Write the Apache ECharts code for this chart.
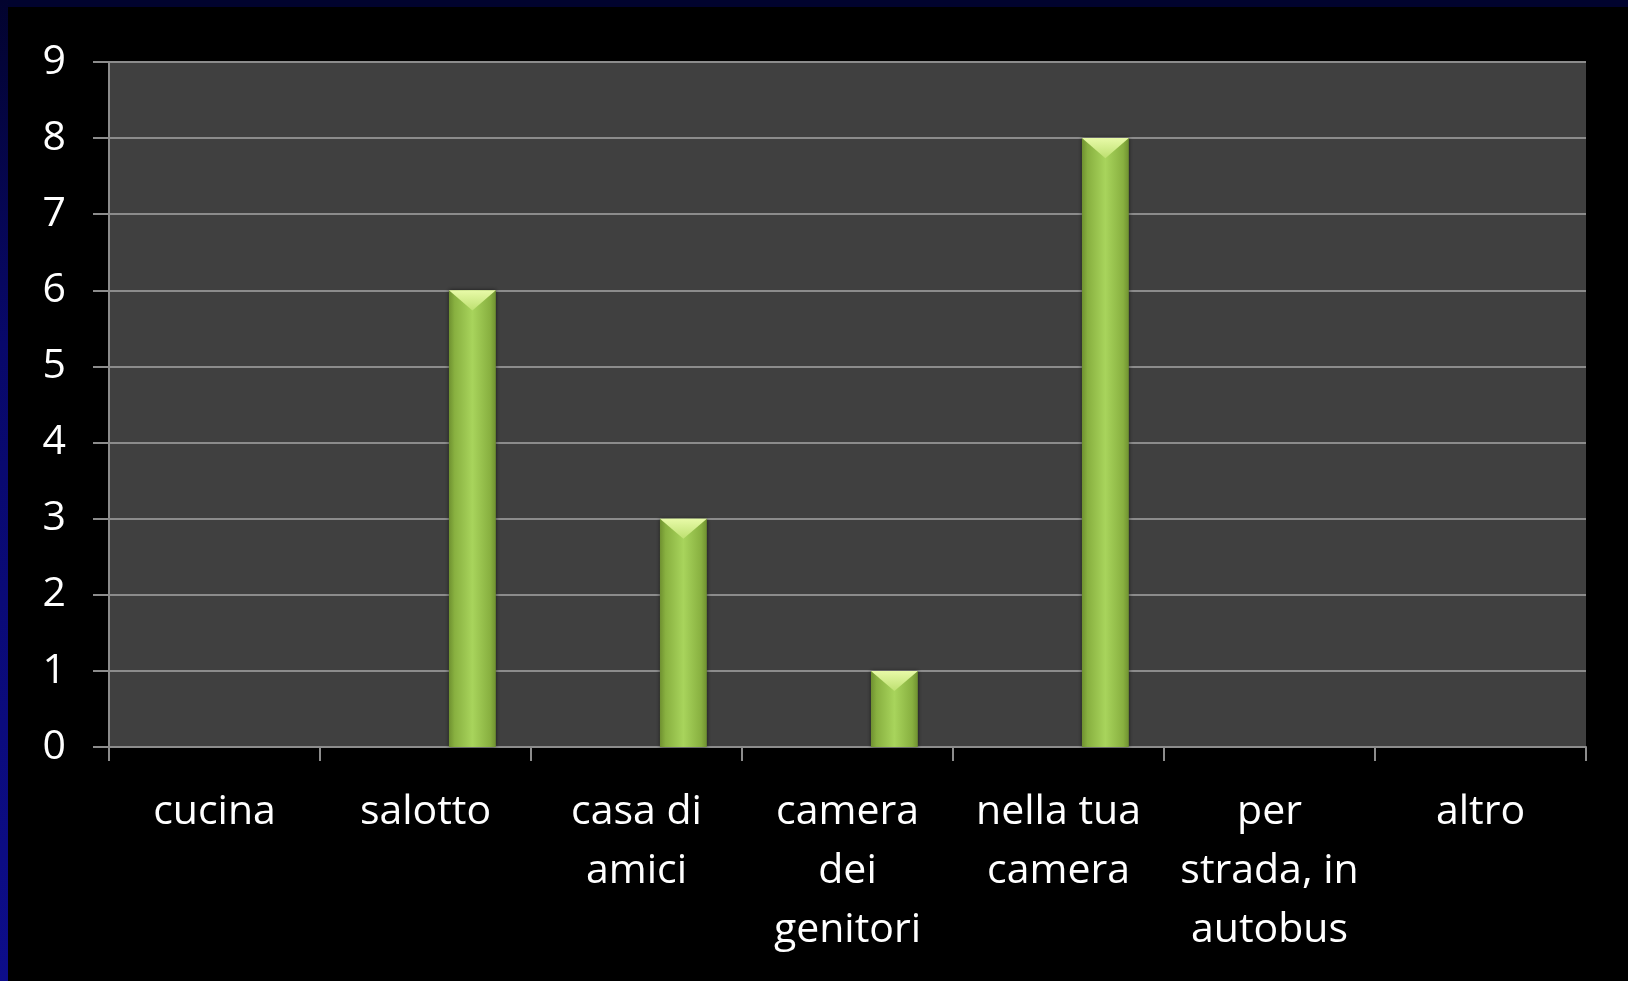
<!DOCTYPE html>
<html>
<head>
<meta charset="utf-8">
<script src="https://cdn.jsdelivr.net/npm/echarts@6/dist/echarts.min.js"></script>
<style>
  html, body { margin: 0; padding: 0; background: #000; }
  #wrap { position: relative; width: 1628px; height: 981px; background: #000; overflow: hidden; }
  #topbar { position: absolute; left: 0; top: 0; width: 1628px; height: 7px; background: #01032e; }
  #leftbar { position: absolute; left: 0; top: 0; width: 8px; height: 981px;
             background: linear-gradient(to bottom, #02032e 0%, #08086a 35%, #0d0d8a 100%); }
  #chart { position: absolute; left: 0; top: 0; width: 1628px; height: 981px; }
</style>
</head>
<body>
<div id="wrap">
  <div id="chart"></div>
  <div id="topbar"></div>
  <div id="leftbar"></div>
</div>
<script>
// ---- data ----
const categories = ['cucina', 'salotto', 'casa di\namici', 'camera\ndei\ngenitori', 'nella tua\ncamera', 'per\nstrada, in\nautobus', 'altro'];
const counts = [0, 6, 3, 1, 8, 0, 0];
const yTicks = [0, 1, 2, 3, 4, 5, 6, 7, 8, 9];

const chart = echarts.init(document.getElementById('chart'), null, { renderer: 'canvas' });

const font = '"Open Sans", "Noto Sans", sans-serif';
const barFill = new echarts.graphic.LinearGradient(0, 0, 1, 0, [
  { offset: 0, color: '#6f9130' },
  { offset: 0.12, color: '#88b040' },
  { offset: 0.5, color: '#a8d45c' },
  { offset: 0.88, color: '#88b040' },
  { offset: 1, color: '#6f9130' }
]);

const option = {
  backgroundColor: 'transparent',
  animation: false,
  grid: {
    left: 109, top: 62, right: 42, bottom: 234,
    show: true, backgroundColor: '#404040', borderWidth: 0
  },
  xAxis: {
    type: 'category',
    data: categories,
    axisLine: { show: true, lineStyle: { color: '#8c8c8c', width: 2 } },
    axisTick: { show: true, length: 14, lineStyle: { color: '#8c8c8c', width: 2 } },
    axisLabel: {
      color: '#ffffff', fontFamily: font, fontSize: 41, lineHeight: 59,
      margin: 36, interval: 0
    },
    splitLine: { show: false }
  },
  yAxis: {
    type: 'value',
    min: yTicks[0], max: yTicks[yTicks.length - 1], interval: 1,
    axisLine: { show: true, lineStyle: { color: '#8c8c8c', width: 2 } },
    axisTick: { show: true, length: 16, lineStyle: { color: '#8c8c8c', width: 2 } },
    axisLabel: { color: '#ffffff', fontFamily: font, fontSize: 41, margin: 43 },
    splitLine: { show: true, lineStyle: { color: '#8c8c8c', width: 2 } }
  },
  series: [
    { type: 'bar', name: 's1', data: [], barGap: '0%', barCategoryGap: '33.333%' },
    { type: 'bar', name: 's2', data: [], barGap: '0%', barCategoryGap: '33.333%' },
    {
      type: 'bar', name: 's3',
      data: counts.map(v => (v > 0 ? v : '-')),
      barGap: '0%', barCategoryGap: '33.333%',
      itemStyle: { color: barFill, shadowBlur: 4, shadowColor: 'rgba(0,0,0,0.6)' }
    },
    {
      type: 'custom', name: 'bevel', z: 5,
      data: counts.map((v, i) => [i, v]).filter(d => d[1] > 0),
      renderItem: function (params, api) {
        const p = api.coord([api.value(0), api.value(1)]);
        const catW = api.size([1, 0])[0];
        const w = catW / 4.5;
        const cx = p[0] + w;
        const top = p[1];
        const depth = w * 0.43;
        return {
          type: 'polygon',
          shape: { points: [[cx - w / 2, top], [cx + w / 2, top], [cx, top + depth]] },
          style: {
            fill: new echarts.graphic.LinearGradient(0, 0, 0, 1, [
              { offset: 0, color: '#e8faa8' },
              { offset: 1, color: '#bde070' }
            ])
          }
        };
      }
    }
  ]
};
chart.setOption(option);
</script>
</body>
</html>
